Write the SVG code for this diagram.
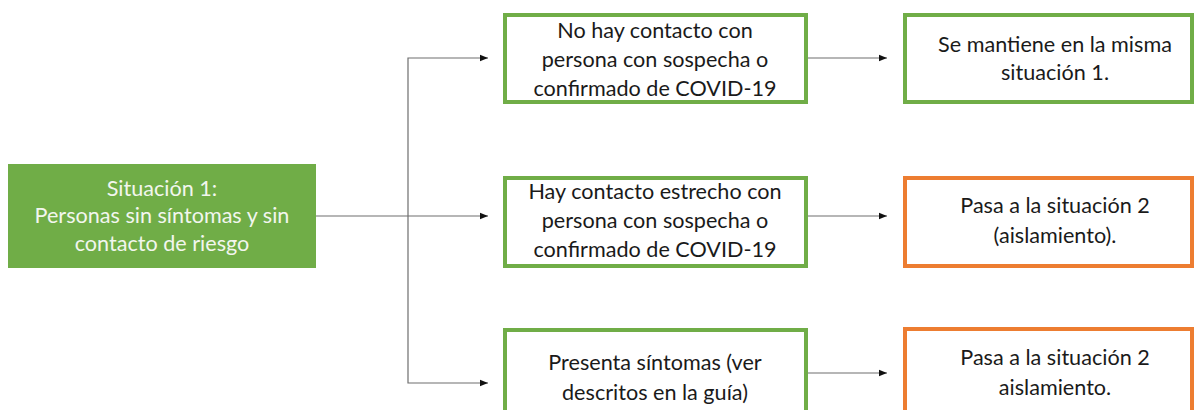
<svg xmlns="http://www.w3.org/2000/svg" width="1194" height="410" viewBox="0 0 1194 410">
<defs>
<marker id="arr" viewBox="0 0 10 10" refX="10" refY="5" markerWidth="8" markerHeight="8" markerUnits="userSpaceOnUse" orient="auto">
<path d="M0,1 L10,5 L0,9 Z" fill="#111"/>
</marker>
<style>
.t{font-family:Lato,"Open Sans","Liberation Sans",sans-serif;font-size:21.6px;fill:#1a1a1a;text-anchor:middle}
.w{fill:#f2f6ee}
.g{fill:#fff;stroke:#70ad47;stroke-width:4}
.o{fill:#fff;stroke:#ed7d31;stroke-width:4}
.c{fill:none;stroke:#6e6e6e;stroke-width:1.2}
</style>
</defs>
<rect width="1194" height="410" fill="#fff"/>
<g id="connectors">
<path class="c" d="M316,216 H488" marker-end="url(#arr)"/>
<path class="c" d="M408,216 V58 H488" marker-end="url(#arr)"/>
<path class="c" d="M408,216 V383 H488" marker-end="url(#arr)"/>
<path class="c" d="M807,58 H887" marker-end="url(#arr)"/>
<path class="c" d="M807,216 H887" marker-end="url(#arr)"/>
<path class="c" d="M807,373 H887" marker-end="url(#arr)"/>
</g>
<g id="situacion1">
<rect x="8" y="164" width="308" height="104" fill="#70ad47"/>
<text class="t w" x="162" y="196">Situación 1:</text>
<text class="t w" x="162" y="223">Personas sin síntomas y sin</text>
<text class="t w" x="162" y="251">contacto de riesgo</text>
</g>
<g id="no-contacto">
<rect class="g" x="505" y="15" width="301" height="87"/>
<text class="t" x="655" y="38">No hay contacto con</text>
<text class="t" x="655" y="67">persona con sospecha o</text>
<text class="t" x="655" y="96">confirmado de COVID-19</text>
</g>
<g id="contacto-estrecho">
<rect class="g" x="505" y="178" width="301" height="88"/>
<text class="t" x="655" y="199">Hay contacto estrecho con</text>
<text class="t" x="655" y="228">persona con sospecha o</text>
<text class="t" x="655" y="257">confirmado de COVID-19</text>
</g>
<g id="sintomas">
<rect class="g" x="505" y="330" width="301" height="100"/>
<text class="t" x="655" y="370">Presenta síntomas (ver</text>
<text class="t" x="655" y="400">descritos en la guía)</text>
</g>
<g id="se-mantiene">
<rect class="g" x="905" y="15" width="287" height="87"/>
<text class="t" x="1055" y="52">Se mantiene en la misma</text>
<text class="t" x="1055" y="80">situación 1.</text>
</g>
<g id="pasa-2a">
<rect class="o" x="905" y="178" width="287" height="88"/>
<text class="t" x="1055" y="213">Pasa a la situación 2</text>
<text class="t" x="1055" y="243">(aislamiento).</text>
</g>
<g id="pasa-2b">
<rect class="o" x="905" y="329" width="287" height="100"/>
<text class="t" x="1055" y="365">Pasa a la situación 2</text>
<text class="t" x="1055" y="395">aislamiento.</text>
</g>
</svg>
